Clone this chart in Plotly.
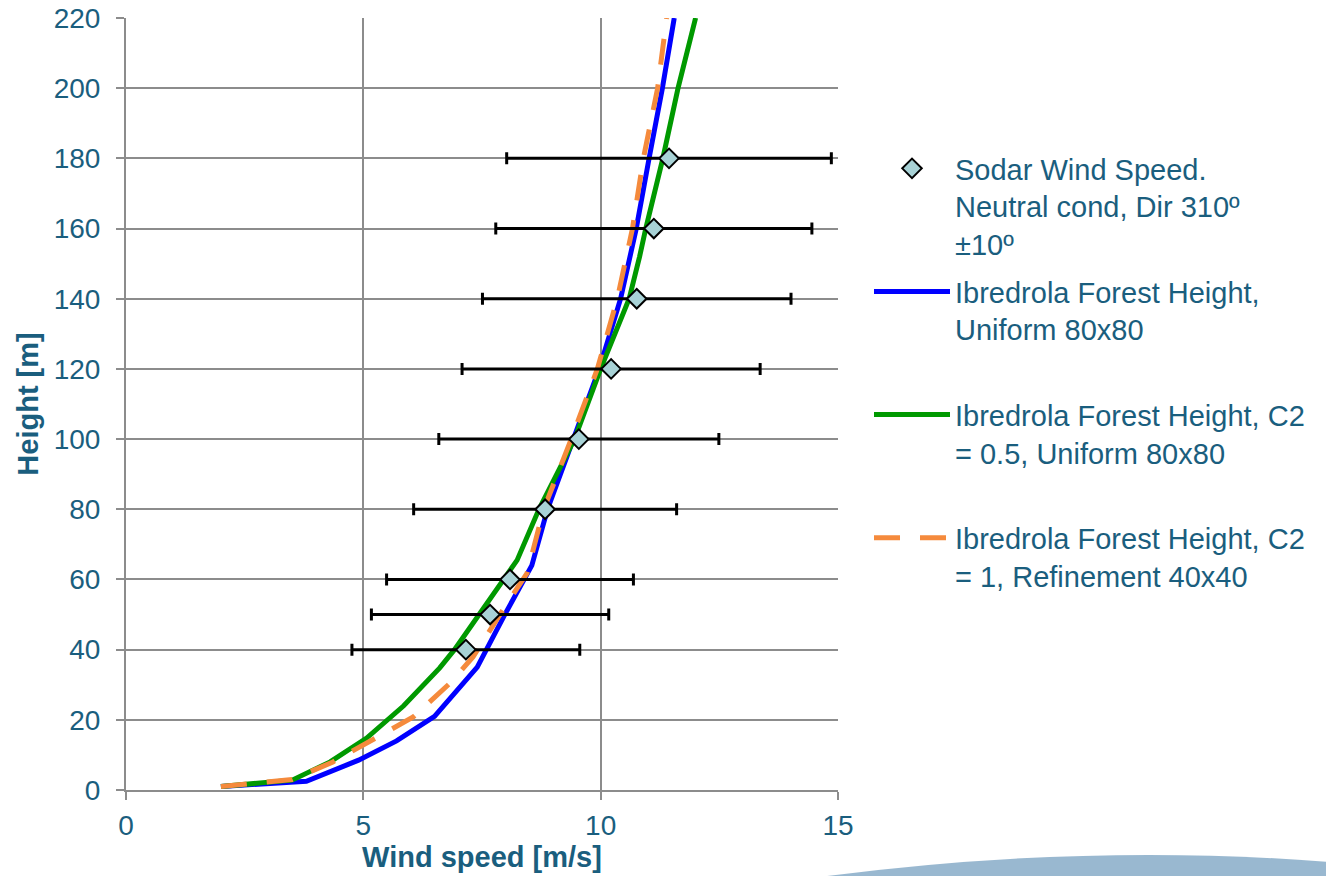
import plotly.graph_objects as go

# ---------------- data ----------------
sodar_height = [40, 50, 60, 80, 100, 120, 140, 160, 180]
sodar_speed = [7.16, 7.67, 8.09, 8.83, 9.54, 10.22, 10.76, 11.12, 11.44]
sodar_err = [2.40, 2.50, 2.60, 2.77, 2.95, 3.14, 3.25, 3.33, 3.42]

blue_speed = [2.0, 3.8, 4.9, 5.7, 6.5, 7.4, 7.98, 8.55, 8.88, 9.42, 9.97, 10.42, 10.75, 11.02, 11.3, 11.55]
blue_height = [1, 2.5, 8.5, 14, 21, 35, 50, 64, 80, 100, 120, 140, 160, 180, 200, 220]

green_speed = [2.0, 3.5, 4.3, 5.07, 5.85, 6.61, 6.92, 7.45, 7.97, 8.24, 8.7, 9.45, 10.0, 10.6, 10.82, 10.95, 11.31, 11.63, 12.0]
green_height = [1, 2.8, 8, 14.8, 24, 34.8, 40, 50, 60, 65.5, 80, 100, 120, 140, 152, 160, 180, 200, 220]

orange_speed = [2.0, 3.5, 4.36, 5.15, 6.05, 6.83, 7.31, 7.94, 8.45, 8.8, 9.38, 9.93, 10.35, 10.67, 10.9, 11.2, 11.39]
orange_height = [1, 3, 8, 14, 20.8, 30.5, 37.9, 51.3, 61.8, 80, 100, 120, 140, 160, 180, 200, 220]

x_ticks = [0, 5, 10, 15]
y_ticks = [0, 20, 40, 60, 80, 100, 120, 140, 160, 180, 200, 220]

names = [
    "Sodar Wind Speed.<br>Neutral cond, Dir 310º<br>±10º",
    "Ibredrola Forest Height,<br>Uniform 80x80<br>\u00a0",
    "Ibredrola Forest Height, C2<br>= 0.5, Uniform 80x80<br>\u00a0",
    "Ibredrola Forest Height, C2<br>= 1, Refinement 40x40<br>\u00a0",
]

TXT = "#1A5E7E"
GRID = "#8C8C8C"
FONT = "Liberation Sans, Arial, sans-serif"

fig = go.Figure()

fig.add_trace(go.Scatter(
    x=blue_speed, y=blue_height, mode="lines", name=names[1],
    line=dict(color="#0000FF", width=5), legendgroup="b", legendrank=2,
))
fig.add_trace(go.Scatter(
    x=green_speed, y=green_height, mode="lines", name=names[2],
    line=dict(color="#009900", width=5), legendgroup="g", legendrank=3,
))
fig.add_trace(go.Scatter(
    x=orange_speed, y=orange_height, mode="lines", name=names[3],
    line=dict(color="#F58A3C", width=5, dash="26px,20px"), legendgroup="o", legendrank=4,
))
fig.add_trace(go.Scatter(
    x=sodar_speed, y=sodar_height, mode="markers", name=names[0],
    marker=dict(symbol="diamond", size=15, color="#A8D2D6",
                line=dict(color="black", width=2)),
    error_x=dict(type="data", array=sodar_err, color="black", thickness=3, width=6),
    legendgroup="s", legendrank=1,
))

L, R, T, B = 126, 488, 18, 86
W, H = 1326, 876
pw, ph = W - L - R, H - T - B


def px(xp):
    return (xp - L) / pw


def py(yp):
    return (H - B - yp) / ph


# decorative globe edge bottom-right
path = "M {:.4f},{:.4f} Q {:.4f},{:.4f} {:.4f},{:.4f} L {:.4f},{:.4f} Z".format(
    px(812), py(878), px(1080), py(842), px(1330), py(862), px(1330), py(878))
fig.add_shape(type="path", path=path, xref="paper", yref="paper",
              fillcolor="rgba(135,172,200,0.85)", line=dict(width=0), layer="below")

fig.update_layout(
    width=W, height=H,
    margin=dict(l=L, r=R, t=T, b=B, autoexpand=False),
    paper_bgcolor="white", plot_bgcolor="white",
    font=dict(family=FONT, size=28, color=TXT),
    showlegend=True,
    legend=dict(
        x=px(869), y=py(143), xanchor="left", yanchor="top",
        font=dict(family=FONT, size=29, color=TXT),
        valign="top", itemwidth=76, tracegroupgap=7,
        bgcolor="rgba(0,0,0,0)", traceorder="grouped",
    ),
    xaxis=dict(
        range=[0, 15], tickvals=x_ticks, showgrid=True, gridcolor=GRID, gridwidth=2,
        showline=True, linecolor=GRID, linewidth=2, zeroline=False,
        ticks="outside", ticklen=8, tickwidth=2, tickcolor=GRID,
        tickfont=dict(family=FONT, size=28, color=TXT), ticklabelstandoff=1,
        title=dict(text="<b>Wind speed [m/s]</b>", font=dict(family=FONT, size=29, color=TXT), standoff=6),
    ),
    yaxis=dict(
        range=[0, 220], tickvals=y_ticks, showgrid=True, gridcolor=GRID, gridwidth=2,
        showline=True, linecolor=GRID, linewidth=2, zeroline=False,
        ticks="outside", ticklen=8, tickwidth=2, tickcolor=GRID,
        tickfont=dict(family=FONT, size=28, color=TXT), ticklabelstandoff=10,
        title=dict(text="<b>Height [m]</b>", font=dict(family=FONT, size=29, color=TXT), standoff=7),
    ),
)

fig.write_html("out.html")
